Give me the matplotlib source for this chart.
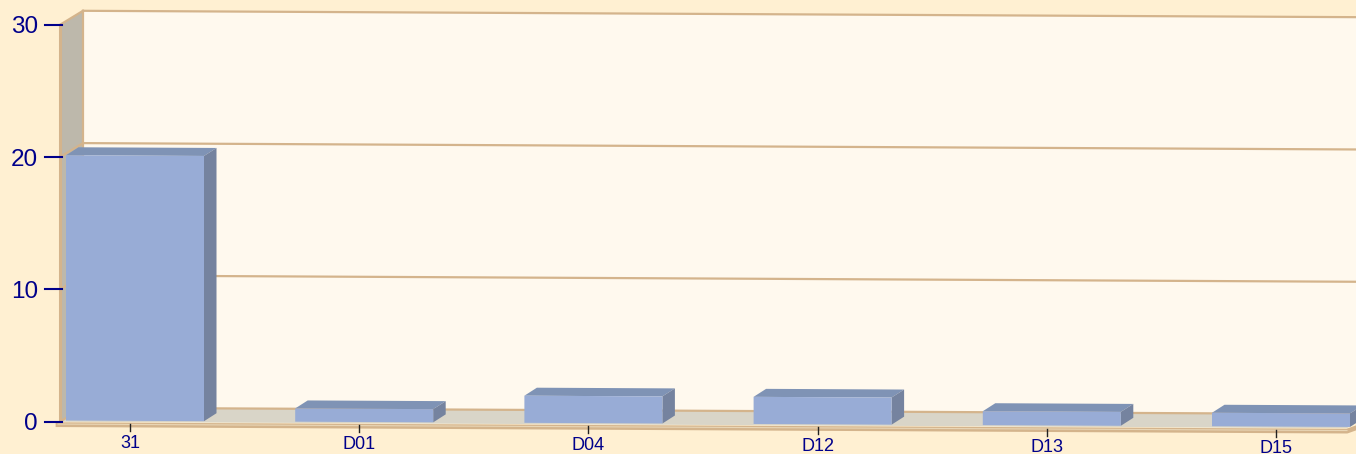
import matplotlib
matplotlib.use('Agg')
import matplotlib.pyplot as plt
from matplotlib.patches import Polygon

categories = ['31', 'D01', 'D04', 'D12', 'D13', 'D15']
values = [20.05, 1.0, 2.05, 2.05, 1.05, 1.02]
y_ticks = [0, 10, 20, 30]

# colours
page = '#FFF0D2'
wall = '#FFF9EE'
side_wall = '#BDB8AB'
floor = '#D9D5C8'
edge = '#D4B48C'
edge_light = '#E9D6B6'
bar_front = '#98ACD6'
bar_top = '#7F93B5'
bar_side = '#75839F'
text_col = '#00008B'

# fake 3d projection, everything is in picture pixels
x0 = 60
y0 = 421.7
slope = 0.005
unit = 13.23
slot = 229.2
bar_w = 138
wall_dx, wall_dy = 23, -14
bar_dx, bar_dy = 12.5, -8
bar_lift = -1.2


def px(x, v=0.0, dx=0, dy=0):
    return (x + dx, y0 + slope * (x - x0) - unit * v + dy)


fig = plt.figure(figsize=(13.56, 4.54), dpi=100, facecolor=page)
ax = fig.add_axes([0, 0, 1, 1])
ax.set_xlim(0, 1356)
ax.set_ylim(454, 0)
ax.axis('off')

right = 1347
top = y_ticks[-1]

# back wall, side wall and floor
ax.add_patch(Polygon([px(x0, 0, wall_dx, wall_dy), px(x0, top, wall_dx, wall_dy),
                      px(right + 60, top, wall_dx, wall_dy), px(right + 60, 0, wall_dx, wall_dy)],
                     fc=wall, ec='none', zorder=1))
ax.add_patch(Polygon([px(x0), px(x0, top), px(x0, top, wall_dx, wall_dy), px(x0, 0, wall_dx, wall_dy)],
                     fc=side_wall, ec='none', zorder=2))
ax.add_patch(Polygon([px(x0), px(right), px(right, 0, wall_dx, wall_dy), px(x0, 0, wall_dx, wall_dy)],
                     fc=floor, ec='none', zorder=2))

# grid lines on the back wall, and the frame
for t in y_ticks:
    p1 = px(x0, t, wall_dx, wall_dy)
    p2 = px(right + 60, t, wall_dx, wall_dy)
    ax.plot([p1[0], p2[0]], [p1[1], p2[1]], color=edge, lw=1.6, zorder=3)
    p3 = px(x0, t)
    ax.plot([p3[0], p1[0]], [p3[1], p1[1]], color=edge, lw=1.6, zorder=3)
p1, p2 = px(x0, 0, wall_dx, wall_dy), px(x0, top, wall_dx, wall_dy)
ax.plot([p1[0], p2[0]], [p1[1], p2[1]], color=edge, lw=1.6, zorder=3)
p1, p2 = px(x0), px(x0, top)
ax.plot([p1[0], p2[0]], [p1[1], p2[1]], color=edge, lw=2.2, zorder=3)
p1, p2, p3 = px(x0 - 2, 0, 0, 3), px(right, 0, 0, 3), px(right + 11, 0, 11, -5)
ax.plot([p1[0], p2[0], p3[0]], [p1[1], p2[1], p3[1]], color=edge, lw=3.4, zorder=3)
ax.plot([p1[0], p2[0]], [p1[1] - 0.6, p2[1] - 0.6], color=edge_light, lw=0.8, zorder=3)

# bars
for i, v in enumerate(values):
    xl = x0 + 6 + slot * i
    xr = xl + bar_w
    ax.add_patch(Polygon([px(xl, v, 0, bar_lift), px(xr, v, 0, bar_lift),
                          px(xr, v, bar_dx, bar_dy + bar_lift), px(xl, v, bar_dx, bar_dy + bar_lift)],
                         fc=bar_top, ec='none', zorder=5))
    ax.add_patch(Polygon([px(xr, 0, 0, bar_lift), px(xr, v, 0, bar_lift),
                          px(xr, v, bar_dx, bar_dy + bar_lift), px(xr, 0, bar_dx, bar_dy + bar_lift)],
                         fc=bar_side, ec='none', zorder=5))
    ax.add_patch(Polygon([px(xl, 0, 0, bar_lift), px(xr, 0, 0, bar_lift),
                          px(xr, v, 0, bar_lift), px(xl, v, 0, bar_lift)],
                         fc=bar_front, ec='none', zorder=6))

# y axis ticks and labels
for t in y_ticks:
    xt, yt = px(x0, t)
    ax.plot([xt - 15, xt + 2], [yt, yt], color=text_col, lw=1.5, zorder=7)
    ax.text(xt - 22, yt, str(t), color=text_col, fontsize=17.5, ha='right', va='center_baseline',
            family='Liberation Sans')

# x axis ticks and labels
for i, c in enumerate(categories):
    xt, yt = px(x0 + 70 + slot * i)
    ax.plot([xt, xt], [yt + 2, yt + 9], color='#222222', lw=1, zorder=7)
    ax.text(xt, yt + 19, c, color=text_col, fontsize=13, ha='center', va='center_baseline',
            family='Liberation Sans')

fig.savefig('out.png', dpi=100, facecolor=page)
